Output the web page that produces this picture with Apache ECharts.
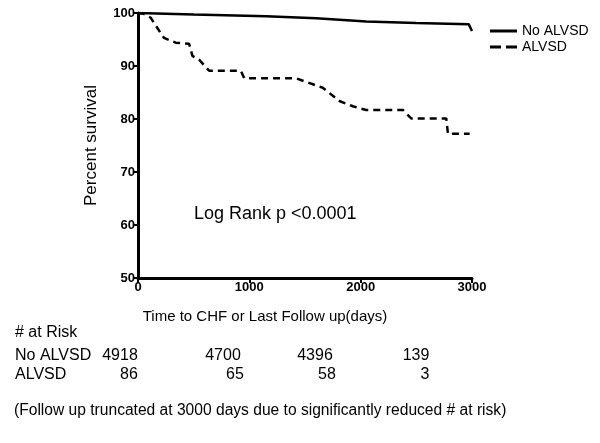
<!DOCTYPE html>
<html><head><meta charset="utf-8">
<script src="https://cdn.jsdelivr.net/npm/echarts@6/dist/echarts.min.js"></script>
<style>html,body{margin:0;padding:0;background:#fff}#c{width:600px;height:443px}</style>
</head><body><div id="c"></div>
<script>
const noAlvsdDays = [0, 500, 1150, 1600, 2050, 2500, 2970, 3000];
const noAlvsdPct  = [100, 99.7, 99.4, 99.0, 98.4, 98.1, 97.9, 96.6];
const alvsdDays = [0, 60, 114, 204, 234, 339, 459, 489, 549, 639, 924, 954, 1419, 1509, 1659, 1809, 1929, 2049, 2379, 2454, 2769, 2784, 2979];
const alvsdPct  = [100, 99.8, 99.1, 96.2, 95.3, 94.4, 94.2, 91.9, 91.2, 89.1, 89.1, 87.7, 87.7, 87.0, 85.9, 83.4, 82.4, 81.7, 81.7, 80.1, 80.1, 77.2, 77.2];
const seriesNames = ['No ALVSD', 'ALVSD'];
const yTicks = [50, 60, 70, 80, 90, 100];
const xTicks = [0, 1000, 2000, 3000];
const riskTimes = [0, 1000, 2000, 3000];
const riskNoAlvsd = [4918, 4700, 4396, 139];
const riskAlvsd = [86, 65, 58, 3];

const F = 'Liberation Sans, Arial, sans-serif';
const chart = echarts.init(document.getElementById('c'));
const zip = (a, b) => a.map((v, i) => [v, b[i]]);
const riskX = [120, 223, 315, 416];
const riskX2 = [129, 235, 327, 425];
const graphics = [
  {type:'text', x:15, y:333, style:{text:'# at Risk', font:'16px '+F, fill:'#000', verticalAlign:'middle'}},
  {type:'text', x:15, y:356, style:{text:'No ALVSD', font:'16px '+F, fill:'#000', verticalAlign:'middle'}},
  {type:'text', x:15, y:375, style:{text:'ALVSD', font:'16px '+F, fill:'#000', verticalAlign:'middle'}},
  {type:'text', x:14, y:411, style:{text:'(Follow up truncated at 3000 days due to significantly reduced # at risk)', font:'15.6px '+F, fill:'#000', verticalAlign:'middle'}},
  {type:'text', x:194, y:214, style:{text:'Log Rank p <0.0001', font:'18px '+F, fill:'#000', verticalAlign:'middle'}}
];
riskNoAlvsd.forEach((v, i) => graphics.push({type:'text', x:riskX[i], y:356, style:{text:String(v), font:'16px '+F, fill:'#000', align:'center', verticalAlign:'middle'}}));
riskAlvsd.forEach((v, i) => graphics.push({type:'text', x:riskX2[i], y:375, style:{text:String(v), font:'16px '+F, fill:'#000', align:'center', verticalAlign:'middle'}}));

chart.setOption({
  animation:false,
  textStyle:{fontFamily:F},
  grid:{left:138, right:128, top:13, bottom:165, containLabel:false},
  legend:{
    orient:'vertical', left:485, top:19, itemWidth:27, itemHeight:3, itemGap:2,
    textStyle:{fontSize:14, color:'#000', fontFamily:F},
    data:[
      {name:seriesNames[0], icon:'path://M0,0h27v3h-27z'},
      {name:seriesNames[1], icon:'path://M0,0h11v3h-11z M16,0h11v3h-11z'}
    ]
  },
  xAxis:{
    type:'value', min:0, max:3000, interval:1000,
    name:'Time to CHF or Last Follow up(days)', nameLocation:'middle', nameGap:31,
    nameTextStyle:{fontSize:15, color:'#000', fontFamily:F, padding:[0,80,0,0]},
    axisLine:{show:true, lineStyle:{color:'#000', width:3}},
    axisTick:{show:true, length:5, lineStyle:{color:'#000', width:2}},
    axisLabel:{fontSize:13, fontWeight:'bold', color:'#000', margin:3, formatter:v => String(v)},
    splitLine:{show:false}
  },
  yAxis:{
    type:'value', min:50, max:100, interval:10,
    name:'Percent survival', nameLocation:'middle', nameGap:38,
    nameTextStyle:{fontSize:17, color:'#000', fontFamily:F},
    axisLine:{show:true, lineStyle:{color:'#000', width:3}},
    axisTick:{show:true, length:5, lineStyle:{color:'#000', width:2}},
    axisLabel:{fontSize:13, fontWeight:'bold', color:'#000', margin:3},
    splitLine:{show:false}
  },
  series:[
    {name:seriesNames[0], type:'line', data:zip(noAlvsdDays, noAlvsdPct), showSymbol:false, symbol:'none',
     lineStyle:{color:'#000', width:2.5, type:'solid'}, itemStyle:{color:'#000'}},
    {name:seriesNames[1], type:'line', data:zip(alvsdDays, alvsdPct), showSymbol:false, symbol:'none',
     lineStyle:{color:'#000', width:2.5, type:[7,5]}, itemStyle:{color:'#000'}}
  ],
  graphic:graphics
});
</script></body></html>
